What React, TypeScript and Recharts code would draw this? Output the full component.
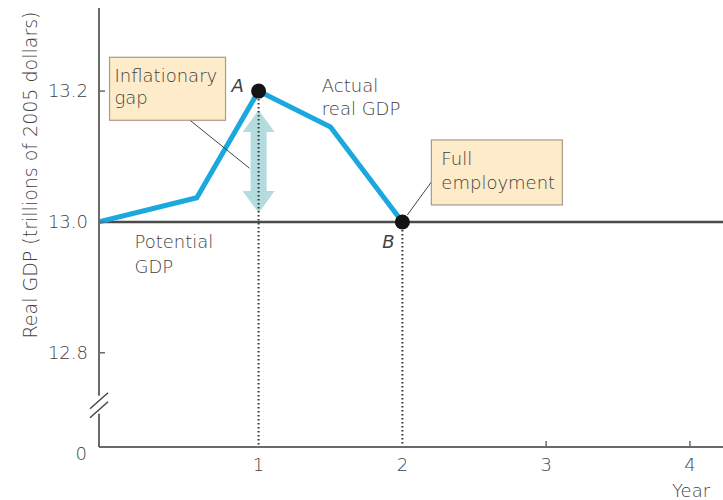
import React from 'react'

import {
    LineChart,
    Line,
    XAxis,
    YAxis,
    ReferenceLine,
    ReferenceDot,
} from "recharts"

// actual real GDP path
const years = [-0.11, 0.57, 1, 1.5, 2]
const actualGdp = [13.0, 13.037, 13.2, 13.145, 13.0]
const potentialGdp = 13.0

const xTicks = [1, 2, 3, 4]
const xTickLabels = ["1", "2", "3", "4"]
// bottom tick is the broken-axis origin
const yTicks = [12.656, 12.8, 13.0, 13.2]
const yTickLabels = ["0", "12.8", "13.0", "13.2"]
const yBreak = 12.716

const pointNames = ["A", "B"]
const pointYears = [1, 2]
const pointGdp = [13.2, 13.0]
const gapRange = [13.0, 13.2]

const data = years.map((year, i) => ({ year, gdp: actualGdp[i] }))

const FONT = "'DejaVu Sans', sans-serif"
const WEIGHT = 200
const TEXT = "#3f3f3f"
const AXIS = "#6a6a6a"

const YTick = (props: any) => {
    const { x, y, payload } = props
    const i = yTicks.indexOf(payload.value)
    const ax = x + 11
    return (
        <g>
            {i > 0 && <line x1={ax} x2={ax + 6} y1={y} y2={y} stroke={AXIS} strokeWidth={1.5} />}
            <text x={i === 0 ? x - 1 : x} y={y + (i === 0 ? 7 : 0)} dy="0.35em" textAnchor="end"
                fontFamily={FONT} fontWeight={WEIGHT} fontSize={18} fill={TEXT}>
                {yTickLabels[i]}
            </text>
        </g>
    )
}

const XTick = (props: any) => {
    const { x, y, payload } = props
    const i = xTicks.indexOf(payload.value)
    const marked = pointYears.includes(payload.value)
    return (
        <g>
            {!marked && <line x1={x} x2={x} y1={y - 10} y2={y - 16} stroke={AXIS} strokeWidth={1.5} />}
            <text x={x} y={y} dy="0.75em" textAnchor="middle" fontFamily={FONT} fontWeight={WEIGHT}
                fontSize={18} fill={TEXT}>
                {xTickLabels[i]}
            </text>
        </g>
    )
}

const GapArrow = (props: any) => {
    const { x1, y1, y2 } = props
    const top = Math.min(y1, y2) + 19
    const bot = Math.max(y1, y2) - 9
    const hw = 16, sw = 8, hh = 22
    const pts = [
        [x1, top], [x1 + hw, top + hh], [x1 + sw, top + hh],
        [x1 + sw, bot - hh], [x1 + hw, bot - hh], [x1, bot],
        [x1 - hw, bot - hh], [x1 - sw, bot - hh], [x1 - sw, top + hh],
        [x1 - hw, top + hh],
    ].map((p) => p.join(",")).join(" ")
    return <polygon points={pts} fill="#a7d5d8" fillOpacity={0.85} />
}

const BreakMark = (props: any) => {
    const { cx, cy } = props
    return (
        <g>
            <line x1={cx} x2={cx} y1={cy - 12} y2={cy + 6} stroke="#fff" strokeWidth={4} />
            <line x1={cx - 9} y1={cy + 1} x2={cx + 9} y2={cy - 15} stroke="#444" strokeWidth={1.5} />
            <line x1={cx - 9} y1={cy + 10} x2={cx + 9} y2={cy - 6} stroke="#444" strokeWidth={1.5} />
        </g>
    )
}

const Note = (lines: string[], dx: number, dy: number, gap: number, box?: number[], leader?: number[]) => (props: any) => {
    const { cx, cy } = props
    return (
        <g fontFamily={FONT} fontWeight={WEIGHT} fontSize={18} fill={TEXT}>
            {leader && (
                <line x1={cx + leader[0]} y1={cy + leader[1]} x2={cx + leader[2]} y2={cy + leader[3]}
                    stroke="#444" strokeWidth={1} />
            )}
            {box && (
                <rect x={cx + box[0]} y={cy + box[1]} width={box[2]} height={box[3]}
                    fill="#fdebc9" stroke="#a89c86" strokeWidth={1.2} />
            )}
            {lines.map((t, k) => (
                <text key={k} x={cx + dx} y={cy + dy + k * gap}>{t}</text>
            ))}
        </g>
    )
}

const Dot = (props: any) => <circle cx={props.cx} cy={props.cy} r={7.5} fill="#141414" />

const PointLetter = (name: string) => (props: any) => {
    const { cx, cy } = props
    const off = name === "A" ? [-27, 1] : [-20, 26]
    return (
        <text x={cx + off[0]} y={cy + off[1]} fontFamily={FONT} fontWeight={WEIGHT} fontStyle="italic"
            fontSize={18} fill={TEXT}>
            {name}
        </text>
    )
}

const App = () => {
    return (
        <div style={{ position: "absolute", left: 0, top: 0, background: "#fff" }}>
            <LineChart width={723} height={500} data={data} margin={{ top: 8, right: 0, bottom: 23, left: 39 }}>
                <XAxis
                    dataKey="year"
                    type="number"
                    domain={[-0.11, 4.23]}
                    ticks={xTicks}
                    tick={<XTick />}
                    tickLine={false}
                    tickSize={0}
                    tickMargin={10}
                    height={30}
                    stroke={AXIS}
                    strokeWidth={2}
                    allowDataOverflow
                    label={{
                        content: () => (
                            <text x={672} y={497} fontFamily={FONT} fontWeight={WEIGHT} fontSize={18} fill={TEXT}>Year</text>
                        ),
                    }}
                />
                <YAxis
                    type="number"
                    domain={[12.656, 13.327]}
                    ticks={yTicks}
                    tick={<YTick />}
                    tickLine={false}
                    tickSize={0}
                    tickMargin={11}
                    width={60}
                    stroke={AXIS}
                    strokeWidth={2}
                    allowDataOverflow
                    label={{
                        content: () => (
                            <text x={30} y={175} dy="0.35em" transform="rotate(-90 30 175)" textAnchor="middle"
                                fontFamily={FONT} fontWeight={WEIGHT} fontSize={19} fill={TEXT}>
                                Real GDP (trillions of 2005 dollars)
                            </text>
                        ),
                    }}
                />
                <ReferenceDot x={-0.11} y={yBreak} r={0} shape={<BreakMark />} ifOverflow="visible" />
                <ReferenceLine y={potentialGdp} stroke="#4a4a4a" strokeWidth={2.5} />
                <ReferenceLine
                    segment={[{ x: 1, y: gapRange[0] }, { x: 1, y: gapRange[1] }]}
                    shape={<GapArrow />}
                />
                {pointYears.map((yr, i) => (
                    <ReferenceLine
                        key={yr}
                        segment={[{ x: yr, y: pointGdp[i] }, { x: yr, y: yTicks[0] }]}
                        stroke="#333"
                        strokeWidth={2}
                        strokeDasharray="1.5 2.5"
                    />
                ))}
                <Line
                    type="linear"
                    dataKey="gdp"
                    stroke="#1ba8df"
                    strokeWidth={5}
                    dot={false}
                    activeDot={false}
                    isAnimationActive={false}
                />
                <ReferenceDot x={0.937} y={13.082} r={0} ifOverflow="visible"
                    shape={Note(["Inflationary", "gap"], -135, -86, 22, [-140, -111, 116, 63], [-62, -50, 0, 0])} />
                <ReferenceDot x={2} y={13.0} r={0} ifOverflow="visible"
                    shape={Note(["Full", "employment"], 39, -57, 24, [29, -82, 131, 65], [29, -40, 5, -7])} />
                <ReferenceDot x={1.44} y={13.198} r={0} ifOverflow="visible"
                    shape={Note(["Actual", "real GDP"], 0, 0, 23)} />
                <ReferenceDot x={0.137} y={12.96} r={0} ifOverflow="visible"
                    shape={Note(["Potential", "GDP"], 0, 0, 25)} />
                {pointNames.map((name, i) => (
                    <ReferenceDot key={name} x={pointYears[i]} y={pointGdp[i]} r={0} ifOverflow="visible"
                        shape={(p: any) => (
                            <g>
                                <Dot {...p} />
                                {PointLetter(name)(p)}
                            </g>
                        )} />
                ))}
            </LineChart>
        </div>
    )
}

export default App
